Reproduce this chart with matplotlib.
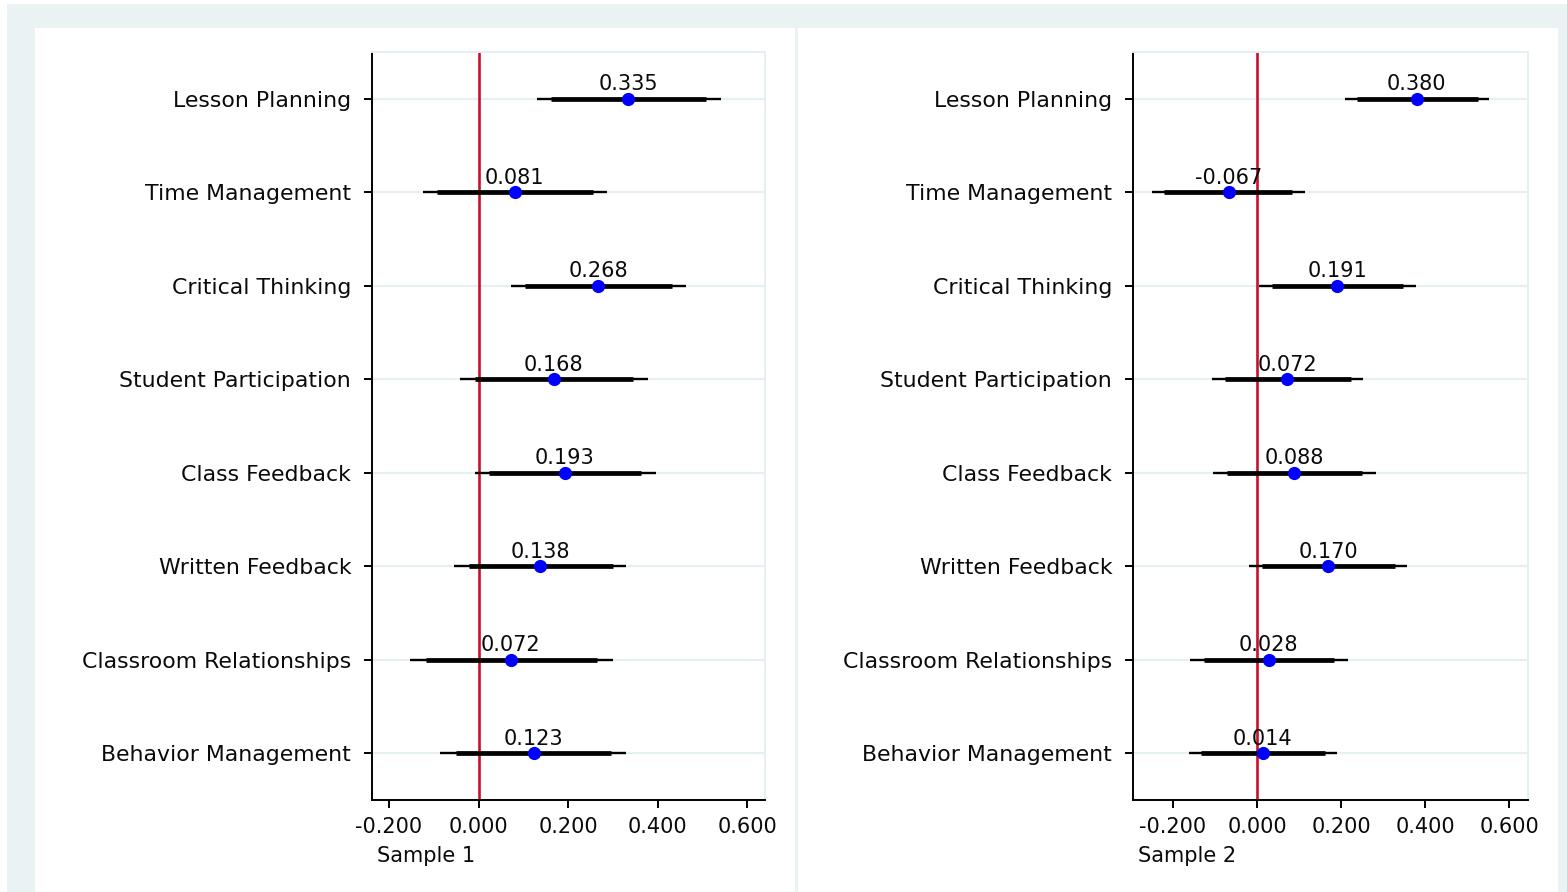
import numpy as np
import matplotlib
matplotlib.use('Agg')
import matplotlib.pyplot as plt
from matplotlib.patches import Rectangle

# ===== 데이터 =====
categories = ['Lesson Planning', 'Time Management', 'Critical Thinking',
              'Student Participation', 'Class Feedback', 'Written Feedback',
              'Classroom Relationships', 'Behavior Management']

# Sample 1: 계수, 95% 구간(얇은 선), 90% 구간(굵은 선)
s1_coef = [0.335, 0.081, 0.268, 0.168, 0.193, 0.138, 0.072, 0.123]
s1_lo95 = [0.130, -0.124, 0.073, -0.041, -0.009, -0.054, -0.154, -0.085]
s1_hi95 = [0.541, 0.286, 0.464, 0.378, 0.397, 0.330, 0.300, 0.330]
s1_lo90 = [0.161, -0.092, 0.104, -0.007, 0.023, -0.022, -0.118, -0.050]
s1_hi90 = [0.509, 0.255, 0.432, 0.345, 0.364, 0.300, 0.264, 0.295]

# Sample 2
s2_coef = [0.380, -0.067, 0.191, 0.072, 0.088, 0.170, 0.028, 0.014]
s2_lo95 = [0.210, -0.249, 0.005, -0.106, -0.104, -0.018, -0.160, -0.161]
s2_hi95 = [0.553, 0.114, 0.378, 0.252, 0.283, 0.356, 0.216, 0.191]
s2_lo90 = [0.237, -0.221, 0.035, -0.076, -0.072, 0.013, -0.126, -0.133]
s2_hi90 = [0.525, 0.084, 0.348, 0.223, 0.251, 0.329, 0.184, 0.162]

xticks = [-0.2, 0.0, 0.2, 0.4, 0.6]
xtick_labels = ['-0.200', '0.000', '0.200', '0.400', '0.600']
panel_titles = ['Sample 1', 'Sample 2']

# ===== 스타일 =====
W, H = 1567, 892
BG = '#EAF2F3'       # Stata 바깥 배경색
GRID = '#E6EFF1'
RED = '#C8102E'
TXT = '#0A0A0A'
plt.rcParams['font.family'] = 'DejaVu Sans'

fig = plt.figure(figsize=(W / 100, H / 100), dpi=100)
fig.patch.set_facecolor('white')


def px_rect(x0, y0, x1, y1, color):
    """픽셀 좌표(위에서 아래로)로 배경 사각형을 그립니다"""
    fig.patches.append(Rectangle((x0 / W, 1 - y1 / H), (x1 - x0) / W, (y1 - y0) / H,
                                 transform=fig.transFigure, facecolor=color,
                                 edgecolor='none', zorder=-10))


px_rect(7, 4, W, H, BG)
px_rect(35, 28, 795, H, 'white')
px_rect(798, 28, 1558, H, 'white')

# 패널별 축 위치 (픽셀)와 x 범위
panels = [
    dict(left=372, right=765, xlim=(-0.238, 0.640),
         coef=s1_coef, lo95=s1_lo95, hi95=s1_hi95, lo90=s1_lo90, hi90=s1_hi90),
    dict(left=1133, right=1528, xlim=(-0.295, 0.645),
         coef=s2_coef, lo95=s2_lo95, hi95=s2_hi95, lo90=s2_lo90, hi90=s2_hi90),
]
top_px, bottom_px = 52, 800
ypos = np.arange(1, len(categories) + 1)

for p, title in zip(panels, panel_titles):
    ax = fig.add_axes([p['left'] / W, 1 - bottom_px / H,
                       (p['right'] - p['left']) / W, (bottom_px - top_px) / H])
    ax.set_facecolor('white')
    ax.set_xlim(*p['xlim'])
    ax.set_ylim(len(categories) + 0.5, 0.5)

    # 가로 격자선
    for y in ypos:
        ax.axhline(y, color=GRID, lw=1.6, zorder=0)

    # 0 기준선
    ax.axvline(0, color=RED, lw=1.9, zorder=1)

    # 신뢰구간 (얇은 95%, 굵은 90%)
    ax.hlines(ypos, p['lo95'], p['hi95'], color='black', lw=1.7, zorder=2,
              capstyle='butt')
    ax.hlines(ypos, p['lo90'], p['hi90'], color='black', lw=3.4, zorder=3,
              capstyle='butt')
    ax.plot(p['coef'], ypos, 'o', color='#0000FF', ms=9.5, mec='none', zorder=4)

    # 값 라벨
    for c, y in zip(p['coef'], ypos):
        ax.annotate(f'{c:.3f}', (c, y), xytext=(0, 6), textcoords='offset points',
                    ha='center', va='baseline', fontsize=15, color=TXT,
                    zorder=5)

    ax.set_yticks(ypos)
    ax.set_yticklabels(categories, fontsize=15.8, color=TXT)
    ax.set_xticks(xticks)
    ax.set_xticklabels(xtick_labels, fontsize=15, color=TXT)
    ax.tick_params(axis='y', length=6, width=1.4, pad=9)
    ax.tick_params(axis='x', length=6, width=1.4, pad=6.5)

    for side in ['left', 'bottom']:
        ax.spines[side].set_color('black')
        ax.spines[side].set_linewidth(1.4)
    for side in ['top', 'right']:
        ax.spines[side].set_color(GRID)
        ax.spines[side].set_linewidth(1.4)

    ax.set_xlabel(title, loc='left', fontsize=15, color=TXT)
    ax.xaxis.set_label_coords(0.012, -0.062)

fig.savefig('out.png', dpi=100, facecolor=fig.get_facecolor())
